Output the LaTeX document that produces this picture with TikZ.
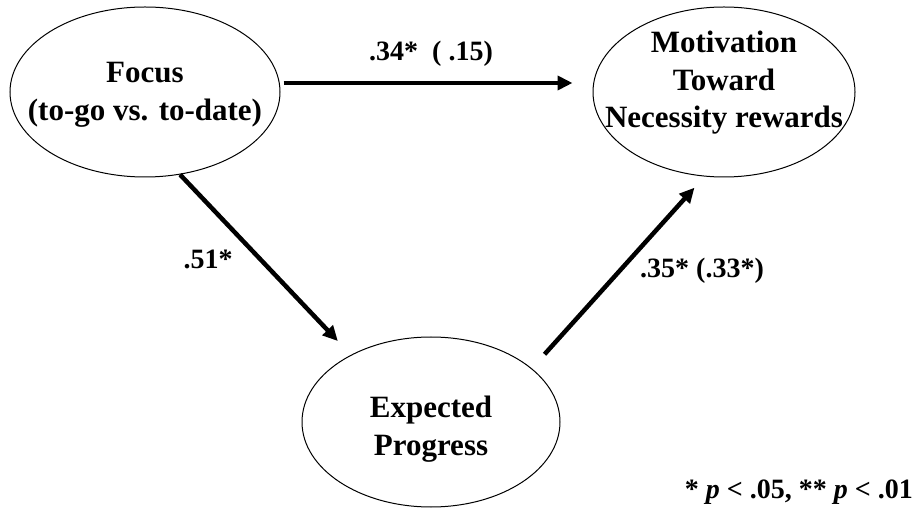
\documentclass[tikz,border=0pt]{standalone}
\usepackage{fontspec}
\setmainfont{Liberation Serif}
\usetikzlibrary{shapes.geometric,arrows.meta}
\tikzset{
  var/.style={ellipse, draw, line width=1pt, inner ysep=0pt, inner xsep=-50pt,
    minimum height=170pt, align=center, font=\fontsize{31}{37.5}\selectfont\bfseries},
  link/.style={line width=4.5pt, -{Triangle[length=15pt,width=14pt]}},
  coef/.style={font=\fontsize{28}{34}\selectfont\bfseries, inner sep=0pt, anchor=base}
}
\begin{document}
\begin{tikzpicture}[x=1pt, y=-1pt]
  \useasboundingbox (0,0) rectangle (921,510);

  % variables
  \node[var, minimum width=270pt, text height=62pt, text depth=5pt] (focus) at (145,92)
    {Focus\\(to-go vs. to-date)};
  \node[var, minimum width=262pt, text height=95pt, text depth=23pt] (motiv) at (724,92)
    {Motivation\\Toward\\Necessity rewards};
  \node[var, minimum width=258pt, text height=70pt, text depth=4pt] (expect) at (431,422)
    {Expected\\Progress};

  % paths
  \draw[link, shorten <=3pt, shorten >=20pt] ([yshift=9pt]focus.east) -- ([yshift=9pt]motiv.west);
  \draw[link, shorten >=19pt] (focus.-67) -- (expect.140);
  \draw[link, shorten <=19pt, shorten >=15pt] (expect.28) -- (motiv.-103);

  % coefficients
  \node[coef] (c1) at (431,61) {.34*~~( .15)};
  \node[coef] (c2) at (208,269) {.51*};
  \node[coef] (c3) at (702,278) {.35* (.33*)};
  \node[coef, anchor=base east] (note) at (913,498) {* \textit{p} < .05, ** \textit{p} < .01};
\end{tikzpicture}
\end{document}
